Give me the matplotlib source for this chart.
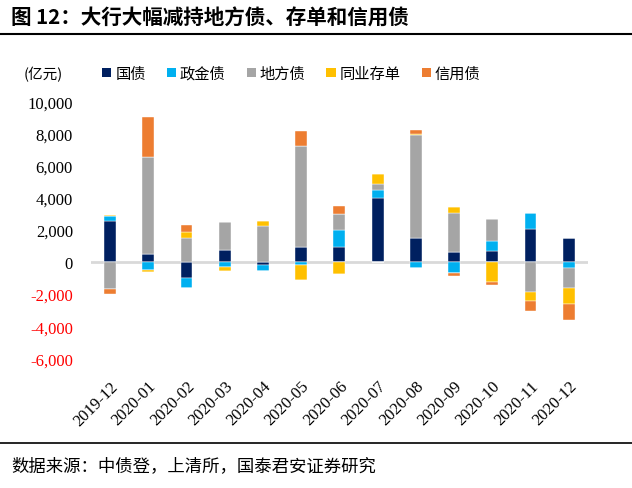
import matplotlib
matplotlib.use("Agg")
import matplotlib.pyplot as plt
import numpy as np
from matplotlib.patches import Patch
from matplotlib.lines import Line2D

categories = ["2019-12", "2020-01", "2020-02", "2020-03", "2020-04", "2020-05", "2020-06",
              "2020-07", "2020-08", "2020-09", "2020-10", "2020-11", "2020-12"]
series_names = ["国债", "政金债", "地方债", "同业存单", "信用债"]
guozhai   = [2560, 480, -1020, 750, -210, 960, 940, 3960, 1480, 600, 670, 2040, 1500]
zhengjin  = [300, -500, -580, -300, -370, -190, 1040, 540, -400, -660, 640, 1020, -400]
difang    = [-1660, 6040, 1480, 1710, 2230, 6250, 980, 350, 6400, 2460, 1360, -1850, -1200]
tongye    = [60, -120, 380, -270, 310, -910, -750, 630, 100, 380, -1250, -590, -1020]
xinyong   = [-360, 2500, 430, 40, 0, 915, 540, 0, 250, -230, -190, -640, -960]
colors = ["#002060", "#00B0F0", "#A5A5A5", "#FFC000", "#ED7D31"]
yticks = [-6000, -4000, -2000, 0, 2000, 4000, 6000, 8000, 10000]

cjk = ["Noto Sans CJK SC", "DejaVu Sans"]
serif = ["Liberation Serif", "DejaVu Serif"]

fig = plt.figure(figsize=(6.32, 4.89), dpi=100)
ax = fig.add_axes([0.144, 0.265, 0.786, 0.526])

x = np.arange(len(categories))
data = [guozhai, zhengjin, difang, tongye, xinyong]
pos_base = np.zeros(len(categories))
neg_base = np.zeros(len(categories))
for vals, col, name in zip(data, colors, series_names):
    v = np.array(vals, dtype=float)
    pos = np.where(v > 0, v, 0)
    neg = np.where(v < 0, v, 0)
    ax.bar(x, pos, bottom=pos_base, width=0.31, color=col, edgecolor="white", linewidth=0.3, zorder=3)
    ax.bar(x, neg, bottom=neg_base, width=0.31, color=col, edgecolor="white", linewidth=0.3, zorder=3)
    pos_base += pos
    neg_base += neg

ax.axhline(0, color="#D9D9D9", lw=2, zorder=2)
ax.set_xlim(-0.5, len(categories) - 0.5)
ax.set_ylim(-6000, 10000)
ax.set_yticks(yticks)
ax.set_yticklabels([f"{t:,}" for t in yticks], fontfamily=serif, fontsize=12)
for lab, t in zip(ax.get_yticklabels(), yticks):
    lab.set_color("red" if t < 0 else "black")
ax.set_xticks(x)
ax.set_xticklabels(categories, rotation=45, ha="right", rotation_mode="anchor",
                   fontfamily=serif, fontsize=12)
ax.tick_params(axis="both", length=0)
ax.tick_params(axis="y", pad=13)
ax.tick_params(axis="x", pad=14)
for s in ax.spines.values():
    s.set_visible(False)

handles = [Patch(facecolor=c, edgecolor="none") for c in colors]
leg = fig.legend(handles, series_names, loc="center left", bbox_to_anchor=(0.140, 0.848),
                 ncol=5, frameon=False, handlelength=0.6, handleheight=0.6,
                 handletextpad=0.25, columnspacing=1.38, prop={"family": cjk, "size": 11})

fig.text(0.038, 0.848, "(亿元)", fontfamily=cjk, fontsize=10.5, va="center", ha="left")

fig.text(0.018, 0.963, "图 12：大行大幅减持地方债、存单和信用债", fontfamily=cjk,
         fontsize=14.8, fontweight="bold", va="center", ha="left")
fig.add_artist(Line2D([0, 1], [0.929, 0.929], color="black", lw=1.5, transform=fig.transFigure))
fig.add_artist(Line2D([0, 1], [0.092, 0.092], color="black", lw=1.2, transform=fig.transFigure))
fig.text(0.018, 0.047, "数据来源：中债登，上清所，国泰君安证券研究", fontfamily=cjk,
         fontsize=12.5, va="center", ha="left")

fig.savefig("out.png", dpi=100)
